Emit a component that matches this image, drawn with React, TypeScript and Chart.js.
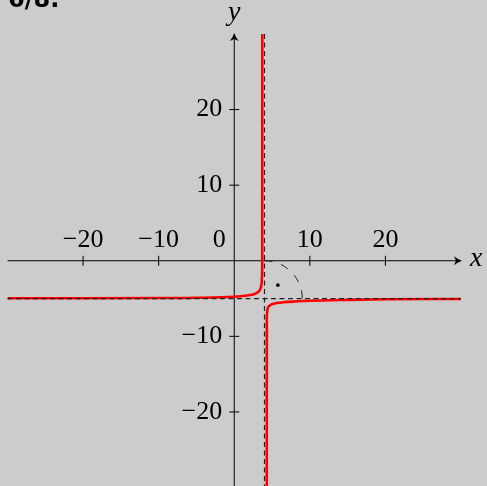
import React, { useEffect, useRef } from "react";
import { Chart, registerables } from "chart.js";

Chart.register(...registerables);

// Left branch of the curve (x < 4)
const leftX = [-30, -20, -10, -5, 0, 1.5, 2.5, 3.0, 3.3, 3.5, 3.62, 3.68, 3.7, 3.71];
const leftY = [-4.97, -4.96, -4.93, -4.9, -4.76, -4.62, -4.45, -4.25, -4.0, -3.6, -3.0, -2.0, 0, 30];
// Right branch of the curve (x > 4)
const rightX = [4.3, 4.31, 4.33, 4.4, 4.6, 5.0, 5.6, 6.5, 8, 10, 15, 20, 30];
const rightY = [-29.8, -8, -7.0, -6.4, -6.0, -5.75, -5.6, -5.5, -5.4, -5.3, -5.18, -5.1, -5.05];

// Asymptotes
const vAsymptote = 4;
const hAsymptote = -5;
const arcRadius = 5;
const dotPoint = { x: 5.77, y: -3.23 };

// Tick values and labels
const xTicks = [-20, -10, 10, 20];
const xTickLabels = ["\u221220", "\u221210", "10", "20"];
const yTicks = [20, 10, -10, -20];
const yTickLabels = ["20", "10", "\u221210", "\u221220"];
const xRange = [-30, 30];
const yRange = [-29.8, 30];
const titleText = "6/8.";

const BG = "#cccccc";
const SERIF = "'Liberation Serif', 'DejaVu Serif', serif";

const axesPlugin = {
  id: "mathAxes",
  beforeDraw(chart: any) {
    const ctx = chart.ctx;
    ctx.save();
    ctx.fillStyle = BG;
    ctx.fillRect(0, 0, chart.width, chart.height);
    ctx.restore();
  },
  beforeDatasetsDraw(chart: any) {
    const ctx = chart.ctx;
    const xs = chart.scales.x;
    const ys = chart.scales.y;
    const area = chart.chartArea;
    const x0 = xs.getPixelForValue(0);
    const y0 = ys.getPixelForValue(0);
    ctx.save();
    ctx.strokeStyle = "#000";
    ctx.lineWidth = 1;
    // x axis
    ctx.beginPath();
    ctx.moveTo(area.left, y0);
    ctx.lineTo(area.right - 1, y0);
    ctx.stroke();
    // y axis
    ctx.beginPath();
    ctx.moveTo(x0, area.bottom);
    ctx.lineTo(x0, area.top + 1);
    ctx.stroke();
    // arrow heads
    const drawArrow = (tx: number, ty: number, dir: "right" | "up") => {
      ctx.beginPath();
      if (dir === "right") {
        ctx.moveTo(tx, ty);
        ctx.quadraticCurveTo(tx - 4, ty - 1, tx - 8, ty - 4.5);
        ctx.lineTo(tx - 6, ty);
        ctx.lineTo(tx - 8, ty + 4.5);
        ctx.quadraticCurveTo(tx - 4, ty + 1, tx, ty);
      } else {
        ctx.moveTo(tx, ty);
        ctx.quadraticCurveTo(tx - 1, ty + 4, tx - 4.5, ty + 8);
        ctx.lineTo(tx, ty + 6);
        ctx.lineTo(tx + 4.5, ty + 8);
        ctx.quadraticCurveTo(tx + 1, ty + 4, tx, ty);
      }
      ctx.closePath();
      ctx.fillStyle = "#000";
      ctx.fill();
    };
    drawArrow(area.right + 1, y0, "right");
    drawArrow(x0, area.top - 1, "up");

    // tick marks
    ctx.lineWidth = 1;
    xTicks.forEach((v) => {
      const px = xs.getPixelForValue(v);
      ctx.beginPath();
      ctx.moveTo(px, y0 - 5);
      ctx.lineTo(px, y0 + 5);
      ctx.stroke();
    });
    yTicks.forEach((v) => {
      const py = ys.getPixelForValue(v);
      ctx.beginPath();
      ctx.moveTo(x0 - 5, py);
      ctx.lineTo(x0 + 5, py);
      ctx.stroke();
    });

    // tick labels
    ctx.fillStyle = "#000";
    ctx.font = "26px " + SERIF;
    ctx.textBaseline = "middle";
    ctx.textAlign = "center";
    xTicks.forEach((v, i) => {
      ctx.fillText(xTickLabels[i], xs.getPixelForValue(v), y0 - 21);
    });
    ctx.fillText("0", x0 - 15, y0 - 21);
    ctx.textAlign = "right";
    yTicks.forEach((v, i) => {
      ctx.fillText(yTickLabels[i], x0 - 12, ys.getPixelForValue(v));
    });

    // axis labels
    ctx.font = "italic 28px " + SERIF;
    ctx.textAlign = "left";
    ctx.fillText("x", area.right + 9, y0 - 2);
    ctx.textAlign = "center";
    ctx.fillText("y", x0, 13);

    // title
    ctx.font = "bold 24px 'DejaVu Sans', sans-serif";
    ctx.textAlign = "left";
    ctx.textBaseline = "alphabetic";
    ctx.fillText(titleText, 8, 7);
    ctx.restore();
  },
  afterDatasetsDraw(chart: any) {
    const ctx = chart.ctx;
    const xs = chart.scales.x;
    const ys = chart.scales.y;
    const area = chart.chartArea;
    const ax = xs.getPixelForValue(vAsymptote);
    const ay = ys.getPixelForValue(hAsymptote);
    ctx.save();
    ctx.strokeStyle = "#222";
    ctx.lineWidth = 1.2;
    ctx.setLineDash([5, 3.5]);
    ctx.beginPath();
    ctx.moveTo(ax, area.top);
    ctx.lineTo(ax, area.bottom);
    ctx.stroke();
    ctx.beginPath();
    ctx.moveTo(area.left, ay);
    ctx.lineTo(area.right, ay);
    ctx.stroke();
    // right-angle arc
    const r = xs.getPixelForValue(vAsymptote + arcRadius) - ax;
    ctx.lineWidth = 1;
    ctx.setLineDash([8, 9]);
    ctx.beginPath();
    ctx.arc(ax, ay, r, -Math.PI / 2, 0);
    ctx.stroke();
    ctx.setLineDash([]);
    // dot
    ctx.fillStyle = "#000";
    ctx.beginPath();
    ctx.arc(xs.getPixelForValue(dotPoint.x), ys.getPixelForValue(dotPoint.y), 1.8, 0, Math.PI * 2);
    ctx.fill();
    ctx.restore();
  },
};

export default function App() {
  const ref = useRef<HTMLCanvasElement | null>(null);
  useEffect(() => {
    document.body.style.margin = "0";
    document.body.style.background = BG;
    if (!ref.current) return;
    const chart = new Chart(ref.current, {
      type: "line",
      data: {
        datasets: [
          {
            data: leftX.map((x, i) => ({ x, y: leftY[i] })),
            borderColor: "#ff0000",
            borderWidth: 2.6,
            pointRadius: 0,
            cubicInterpolationMode: "monotone",
            fill: false,
          },
          {
            data: rightX.map((x, i) => ({ x, y: rightY[i] })),
            borderColor: "#ff0000",
            borderWidth: 2.6,
            pointRadius: 0,
            cubicInterpolationMode: "monotone",
            fill: false,
          },
        ],
      },
      options: {
        responsive: false,
        animation: false,
        devicePixelRatio: 1,
        layout: { padding: { left: 7.5, right: 26, top: 34, bottom: 0 } },
        plugins: { legend: { display: false }, tooltip: { enabled: false }, title: { display: false } },
        events: [],
        scales: {
          x: { type: "linear", min: xRange[0], max: xRange[1], display: false },
          y: { type: "linear", min: yRange[0], max: yRange[1], display: false },
        },
      },
      plugins: [axesPlugin],
    } as any);
    let alive = true;
    const redraw = () => {
      if (alive) chart.draw();
    };
    if ((document as any).fonts) {
      Promise.all([
        (document as any).fonts.load("26px 'Liberation Serif'"),
        (document as any).fonts.load("italic 28px 'Liberation Serif'"),
        (document as any).fonts.load("bold 24px 'DejaVu Sans'"),
      ])
        .then(redraw)
        .catch(() => {});
    }
    const t = setTimeout(redraw, 300);
    return () => {
      alive = false;
      clearTimeout(t);
      chart.destroy();
    };
  }, []);
  return <canvas ref={ref} width={487} height={486} style={{ display: "block" }} />;
}
